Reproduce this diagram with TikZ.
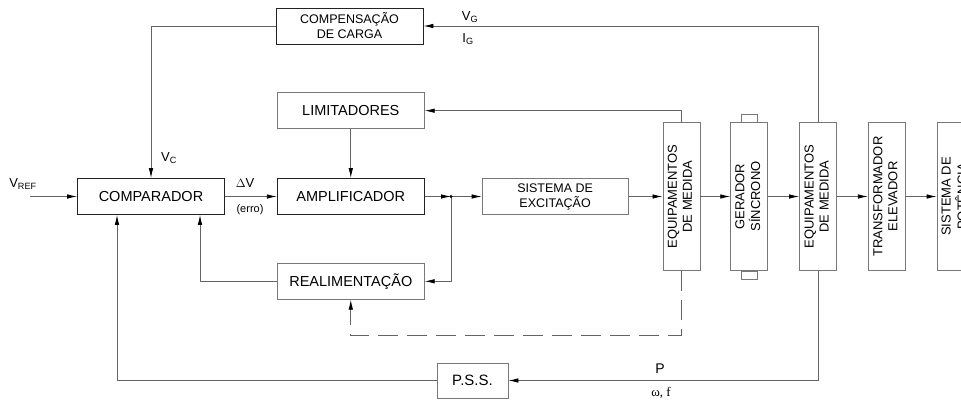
\documentclass[tikz,border=0pt]{standalone}
\usepackage{fontspec}
\setmainfont{Liberation Sans}
\newfontfamily\greekserif{Liberation Serif}
\usetikzlibrary{%
    arrows.meta,%
    positioning
    }
\definecolor{lineg}{RGB}{100,100,100}
\definecolor{boxg}{RGB}{120,120,120}
\definecolor{boxd}{RGB}{35,35,35}
\newcommand{\sidetext}[2]{\rotatebox{90}{\begin{tabular}{@{}c@{}}#1\\#2\end{tabular}}}
\tikzset{
  block/.style={
    rectangle,
    draw=boxg,
    line width=0.8pt,
    minimum width=147pt,
    minimum height=36pt,
    inner sep=0pt,
    align=center,
    font=\fontsize{14.5}{16}\selectfont,
  },
  blockdark/.style={
    block,
    draw=boxd,
  },
  smallblock/.style={
    block,
    font=\fontsize{12.5}{15}\selectfont,
  },
  vblock/.style={
    rectangle,
    draw=boxg,
    line width=0.8pt,
    minimum width=37pt,
    minimum height=148pt,
    inner sep=0pt,
    font=\fontsize{13}{15}\selectfont,
  },
  sigline/.style={
    -{Latex[length=10pt,width=4.5pt,color=black]},
    lineg,
    line width=0.8pt,
  },
  plainline/.style={
    lineg,
    line width=0.8pt,
  },
  dashline/.style={
    sigline,
    dash pattern=on 20pt off 9pt,
  },
  lbl/.style={
    inner sep=0pt,
    font=\fontsize{13}{14}\selectfont,
  },
}

\begin{document}
\begin{tikzpicture}[x=1pt,y=1pt]
\useasboundingbox (0,0) rectangle (961,400);

% main row
\node[blockdark]
  (cmp) at (151,203.5)
  {COMPARADOR};
\node[blockdark,right=52pt of cmp]
  (amp)
  {AMPLIFICADOR};
\node[smallblock,right=57pt of amp,minimum width=146pt]
  (exc)
  {SISTEMA DE\\EXCITAÇÃO};
\node[block,above=49pt of amp]
  (lim)
  {LIMITADORES};
\node[block,below=48pt of amp]
  (real)
  {REALIMENTAÇÃO};
\node[smallblock,draw=boxd]
  (comp) at (349.5,374)
  {COMPENSAÇÃO\\DE CARGA};
\node[block,minimum width=71pt,minimum height=35pt,font=\fontsize{15}{16}\selectfont]
  (pss) at (472.5,19.5)
  {P.S.S.};

% vertical blocks
\node[vblock,right=34pt of exc]
  (med1)
  {\sidetext{EQUIPAMENTOS}{DE MEDIDA}};
\node[vblock,right=30pt of med1]
  (ger)
  {\sidetext{GERADOR}{SÍNCRONO}};
\node[vblock,right=31pt of ger]
  (med2)
  {\sidetext{EQUIPAMENTOS}{DE MEDIDA}};
\node[vblock,right=31pt of med2]
  (trafo)
  {\sidetext{TRANSFORMADOR}{ELEVADOR}};
\node[vblock,right=31pt of trafo]
  (sp)
  {\sidetext{SISTEMA DE}{POTÊNCIA}};
\draw[draw=boxg,line width=0.8pt]
  ([xshift=-8pt]ger.north) rectangle ([xshift=8pt,yshift=8pt]ger.north);
\draw[draw=boxg,line width=0.8pt]
  ([xshift=-8pt]ger.south) rectangle ([xshift=8pt,yshift=-8pt]ger.south);

\coordinate (vref) at (30,203.5);
\coordinate (split) at (451,203.5);

% labels
\node[lbl] (vreflbl) at (23,216) {V\textsubscript{REF}};
\node[lbl] (dvlbl) at (245,217) {$\Delta$V};
\node[lbl,font=\fontsize{11}{12}\selectfont] (errlbl) at (250,190) {(erro)};
\node[lbl] (vclbl) at (169,242) {V\textsubscript{C}};
\node[lbl] (vglbl) at (470,383) {V\textsubscript{G}};
\node[lbl] (iglbl) at (468,361) {I\textsubscript{G}};
\node[lbl,font=\fontsize{14}{15}\selectfont] (plbl) at (660,31) {P};
\node[lbl,font=\greekserif\fontsize{13}{14}\selectfont] (wflbl) at (661,7) {ω, f};

\begin{scope}[sigline]
\draw
  (vref) -- (cmp);
\draw
  (cmp) -- (amp);
\draw[plainline]
  (amp.east) -- (split);
\draw
  (split) -- (exc.west);
\draw
  (split) |- (real.east);
\draw
  (real.west) -| ([xshift=49pt]cmp.south);
\draw
  (pss.west) -| ([xshift=-34pt]cmp.south);
\draw
  (lim) -- (amp);
\draw
  (med1.north) |- (lim.east);
\draw
  (med2.north) |- (comp.east);
\draw
  (comp.west) -| (cmp.north);
\draw
  (med2.south) |- (pss.east);
\draw[dashline]
  (med1.south) |- ([yshift=-36pt]real.south) -- (real.south);
\foreach \a/\b in {exc/med1,med1/ger,ger/med2,med2/trafo,trafo/sp}
  \draw (\a) -- (\b);
\end{scope}
\fill (split) circle (1.6pt);
\end{tikzpicture}
\end{document}
